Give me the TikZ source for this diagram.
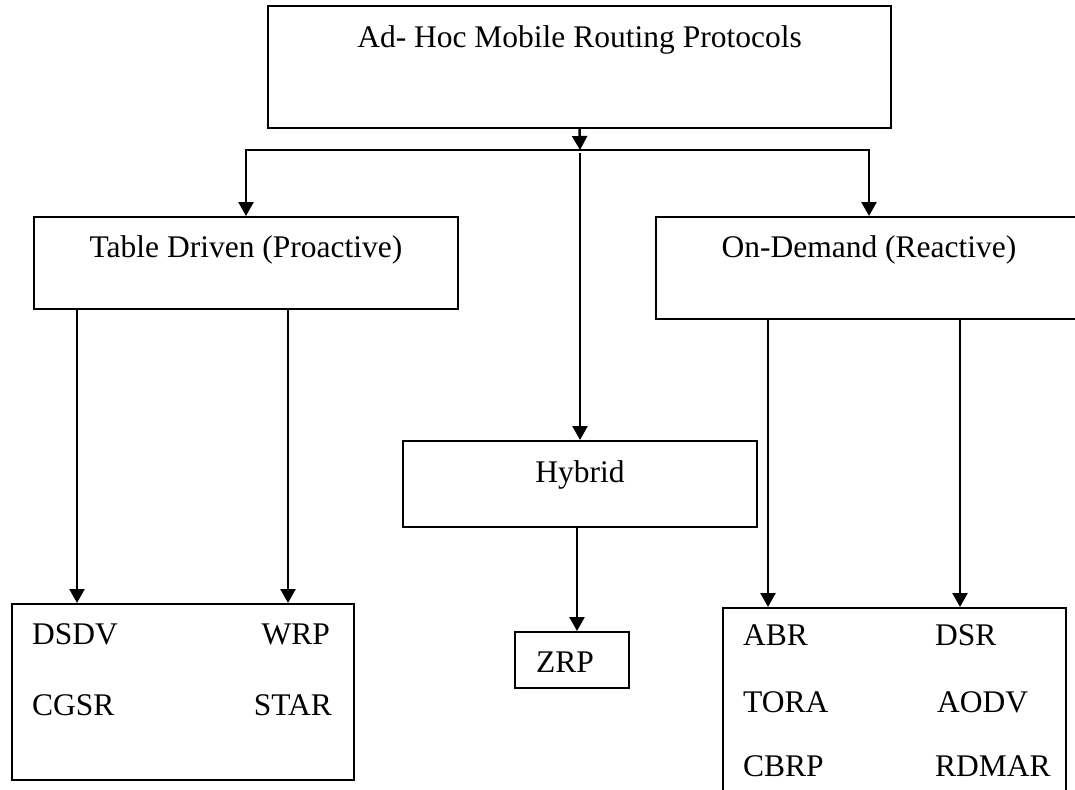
\documentclass[tikz,border=0pt]{standalone}
\usepackage{fontspec}
\setmainfont{Liberation Serif}
\usetikzlibrary{arrows.meta, positioning}

\begin{document}
\begin{tikzpicture}[x=1pt, y=-1pt, >={Triangle[width=15pt,length=14pt]},
    khung/.style={draw, line width=2pt, inner sep=0pt},
    chu/.style={font=\fontsize{31.5}{38}\selectfont, inner sep=0pt},
    noi/.style={line width=2.5pt}]

    % khung hinh
    \clip (0,0) rectangle (1075,789);

    % =================================================================
    % TANG 1: GOC VA HAI NHANH CHINH
    % =================================================================
    \node[khung, minimum width=623pt, minimum height=122pt] (goc) at (579.5,67) {};
    \node[chu, anchor=base] (tgoc) at (579.5,48) {Ad- Hoc Mobile Routing Protocols};

    \node[khung, minimum width=424pt, minimum height=92pt] (bang) at (246,263) {};
    \node[chu, anchor=base] (tbang) at (246,257) {Table Driven (Proactive)};

    \node[khung, minimum width=426pt, minimum height=102pt] (yeucau) at (869,268) {};
    \node[chu, anchor=base] (tyeucau) at (869,257) {On-Demand (Reactive)};

    \node[khung, minimum width=354pt, minimum height=86pt] (lai) at (580,484) {};
    \node[chu, anchor=base] (tlai) at (580,482) {Hybrid};

    % diem re nhanh
    \coordinate (chia) at (580,150);

    % =================================================================
    % TANG 2: CAC GIAO THUC CU THE
    % =================================================================
    \node[khung, minimum width=342pt, minimum height=176pt] (dsbang) at (183,692) {};
    \node[chu, anchor=base west] (dsdv) at (32,644) {DSDV};
    \node[chu, anchor=base east] (wrp) at (330,644) {WRP};
    \node[chu, anchor=base west] (cgsr) at (32,715) {CGSR};
    \node[chu, anchor=base east] (star) at (332,715) {STAR};

    \node[khung, minimum width=114pt, minimum height=56pt] (zrp) at (572,660) {};
    \node[chu, anchor=base west] (tzrp) at (536,672) {ZRP};

    \node[khung, minimum width=343pt, minimum height=224pt] (dsyc) at (894.5,720) {};
    \node[chu, anchor=base west] (abr) at (743,645) {ABR};
    \node[chu, anchor=base west] (dsr) at (935,645) {DSR};
    \node[chu, anchor=base west] (tora) at (743,712) {TORA};
    \node[chu, anchor=base west] (aodv) at (937,712) {AODV};
    \node[chu, anchor=base west] (cbrp) at (743,776) {CBRP};
    \node[chu, anchor=base west] (rdmar) at (935,776) {RDMAR};

    % =================================================================
    % CAC MUI TEN NOI
    % =================================================================
    \draw[noi, ->] (goc.south) -- (chia);
    \draw[noi, ->] (chia) -| (bang.north);
    \draw[noi, ->] (chia) -| (yeucau.north);
    \draw[noi, ->] ([yshift=-3pt]chia) -- (lai.north);

    \draw[noi, ->] ([xshift=-169pt]bang.south) -- ([xshift=-169pt]bang.south |- dsbang.north);
    \draw[noi, ->] ([xshift=42pt]bang.south) -- ([xshift=42pt]bang.south |- dsbang.north);

    \draw[noi, ->] ([xshift=-3pt]lai.south) -- ([xshift=-3pt]lai.south |- zrp.north);

    \draw[noi, ->] ([xshift=-101pt]yeucau.south) -- ([xshift=-101pt]yeucau.south |- dsyc.north);
    \draw[noi, ->] ([xshift=91pt]yeucau.south) -- ([xshift=91pt]yeucau.south |- dsyc.north);

\end{tikzpicture}
\end{document}
